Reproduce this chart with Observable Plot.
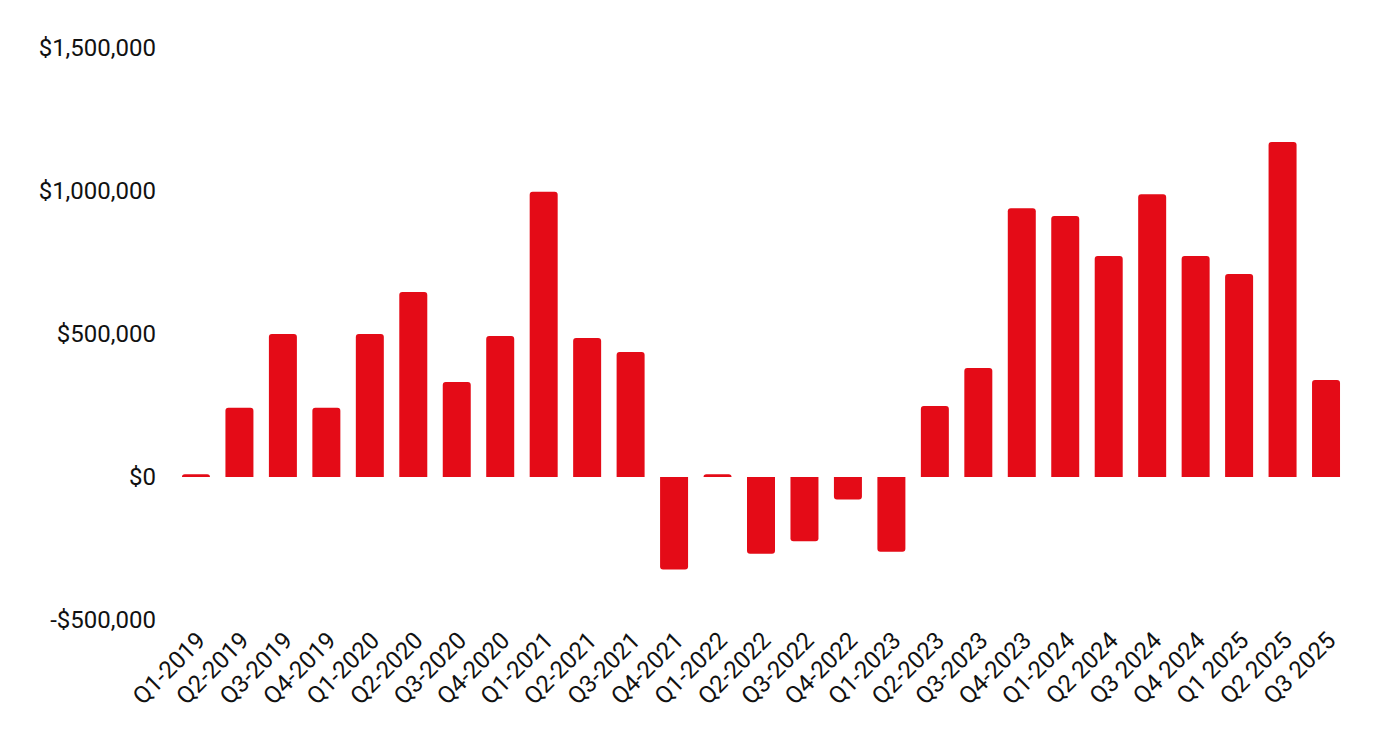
<!DOCTYPE html>
<html>
<head>
<meta charset="utf-8">
<script src="https://cdn.jsdelivr.net/npm/d3@7"></script>
<script src="https://cdn.jsdelivr.net/npm/@observablehq/plot@0.6"></script>
<style>
  html, body { margin: 0; padding: 0; background: #fff; }
  #chart svg { display: block; }
</style>
</head>
<body>
<div id="chart"></div>
<script>
const quarters = [
  "Q1-2019","Q2-2019","Q3-2019","Q4-2019",
  "Q1-2020","Q2-2020","Q3-2020","Q4-2020",
  "Q1-2021","Q2-2021","Q3-2021","Q4-2021",
  "Q1-2022","Q2-2022","Q3-2022","Q4-2022",
  "Q1-2023","Q2-2023","Q3-2023","Q4-2023",
  "Q1-2024","Q2 2024","Q3 2024","Q4 2024",
  "Q1 2025","Q2 2025","Q3 2025"
];
const values = [
  10000, 242000, 500000, 242000,
  500000, 647000, 332000, 493000,
  997000, 486000, 437000, -323000,
  10000, -268000, -225000, -79000,
  -261000, 248000, 381000, 940000,
  913000, 773000, 989000, 773000,
  710000, 1171000, 339000
];
const yTicks = [-500000, 0, 500000, 1000000, 1500000];

const data = quarters.map((q, i) => ({q, v: values[i]}));
const pos = data.filter(d => d.v >= 0);
const neg = data.filter(d => d.v < 0);
const fmt = d => (d < 0 ? "-" : "") + "$" + d3.format(",")(Math.abs(d));
const red = "#e40b17";

const chart = Plot.plot({
  width: 1392,
  height: 742,
  marginTop: 48,
  marginBottom: 122,
  marginLeft: 166.5,
  marginRight: 36.5,
  style: {fontFamily: "Roboto, sans-serif", fontSize: "24px", color: "#111", background: "#fff"},
  x: {domain: quarters, padding: 0.356, round: false, label: null},
  y: {domain: [-500000, 1500000], label: null},
  marks: [
    Plot.barY(pos, {x: "q", y1: 0, y2: "v", fill: red, ry1: 3}),
    Plot.barY(neg, {x: "q", y1: 0, y2: "v", fill: red, ry2: 3}),
    Plot.axisY({ticks: yTicks, tickFormat: fmt, tickSize: 0, tickPadding: 11, label: null, fontSize: 24}),
    Plot.axisX({tickSize: 0, tickRotate: -45, tickPadding: 16, dx: 5, label: null, fontSize: 24})
  ]
});
document.getElementById("chart").appendChild(chart);
</script>
</body>
</html>
